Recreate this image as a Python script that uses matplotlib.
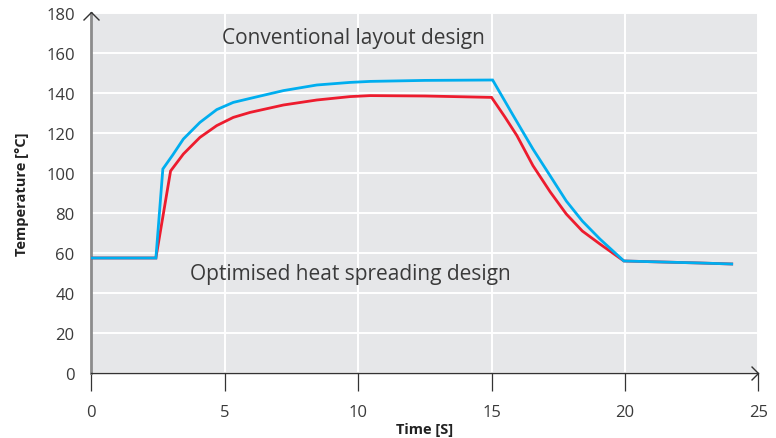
"""Temperature transient: conventional layout vs optimised heat spreading design."""

import matplotlib

matplotlib.use("Agg")

import matplotlib.pyplot as plt
from matplotlib.path import Path

# time [s] and temperature [degC]
time_conv = [0, 2.42, 2.68, 3.05, 3.45, 4.07, 4.7, 5.32, 5.95, 7.2, 8.45, 9.7, 10.45,
             12.5, 15.04, 15.8, 16.55, 17.2, 17.8, 18.4, 19.06, 19.96, 22.8, 24]
temp_conv = [57.5, 57.5, 102, 109, 117, 125.3, 131.7, 135.3, 137.3, 141.2, 144, 145.3, 145.8,
             146.3, 146.5, 129, 112, 98.5, 86, 76, 67, 56, 55, 54.5]

time_opt = [0, 2.42, 2.97, 3.45, 4.07, 4.7, 5.32, 5.95, 7.2, 8.45, 9.7, 10.45,
            12.5, 15.0, 15.5, 15.95, 16.55, 17.2, 17.8, 18.4, 19.06, 19.96, 22.8, 24]
temp_opt = [57.5, 57.5, 101, 109.5, 117.8, 123.7, 127.8, 130.3, 134, 136.5, 138.2, 138.7,
            138.5, 137.8, 128, 118.7, 103.7, 90.5, 79.5, 71, 64.5, 56, 55, 54.5]

x_ticks = [0, 5, 10, 15, 20, 25]
y_ticks = [0, 20, 40, 60, 80, 100, 120, 140, 160, 180]

BLUE = "#00aeef"
RED = "#ed1c2e"
TEXT = "#3a3a3a"

plt.rcParams["font.family"] = ["Open Sans", "DejaVu Sans"]

fig = plt.figure(figsize=(7.76, 4.39), dpi=100)
ax = fig.add_axes([0.1177, 0.1481, 0.8596, 0.82])
ax.set_facecolor("#e6e7e9")

ax.plot(time_opt, temp_opt, color=RED, lw=2.0, solid_joinstyle="miter", zorder=3)
ax.plot(time_conv, temp_conv, color=BLUE, lw=2.0, solid_joinstyle="miter", zorder=4)

ax.set_xlim(0, 25)
ax.set_ylim(0, 180)
ax.set_xticks(x_ticks)
ax.set_yticks(y_ticks)
ax.grid(True, color="white", lw=1.4)
ax.set_axisbelow(True)

for side in ("top", "right"):
    ax.spines[side].set_visible(False)
ax.spines["left"].set_color("#8c8c8c")
ax.spines["left"].set_linewidth(2.0)
ax.spines["bottom"].set_color("#333333")
ax.spines["bottom"].set_linewidth(1.0)

ax.tick_params(axis="x", length=13, width=0.9, color="#333333", pad=9,
               labelsize=12, labelcolor=TEXT)
ax.tick_params(axis="y", length=0, pad=12, labelsize=12, labelcolor=TEXT)

ax.set_xlabel("Time [S]", fontsize=10.5, fontweight="bold", color="#222222", labelpad=2)
ax.set_ylabel("Temperature [°C]", fontsize=10.5, fontweight="bold", color="#222222", labelpad=12)

# open chevron heads at the axis ends
up = Path([(-1, -1), (0, 0), (1, -1)], [Path.MOVETO, Path.LINETO, Path.LINETO])
right = Path([(-1, 1), (0, 0), (-1, -1)], [Path.MOVETO, Path.LINETO, Path.LINETO])
ax.plot([0], [1.003], marker=up, ms=11.5, mfc="none", mec="#333333", mew=1.0,
        transform=ax.transAxes, clip_on=False, zorder=6)
ax.plot([1.0], [0], marker=right, ms=10, mfc="none", mec="#333333", mew=1.0,
        transform=ax.transAxes, clip_on=False, zorder=6)

ax.text(4.88, 168, "Conventional layout design", fontsize=15, color=TEXT, va="center")
ax.text(3.7, 49.5, "Optimised heat spreading design", fontsize=15, color=TEXT, va="center")

fig.savefig("out.png", dpi=100)
